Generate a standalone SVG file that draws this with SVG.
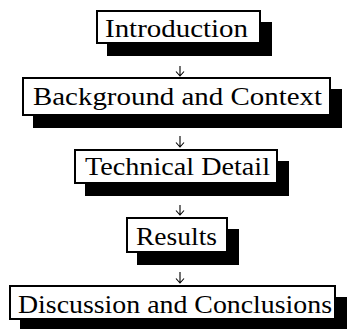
<svg xmlns="http://www.w3.org/2000/svg" width="348" height="329" viewBox="0 0 348 329">
<style>
.box{fill:#fff;stroke:#000;stroke-width:2}
.sh{fill:#000}
.t{font-family:"Liberation Serif","DejaVu Serif","Times New Roman",serif;font-size:25px;fill:#000}
.c{fill:none;stroke:#000;stroke-width:1.1}
</style>
<rect width="348" height="329" fill="#fff"/>
<g id="connectors">
<path class="c" d="M180,66V76M176,71.5L180,76L184,71.5"/>
<path class="c" d="M180,136V147M176,142.5L180,147L184,142.5"/>
<path class="c" d="M180,205V215M176,210.5L180,215L184,210.5"/>
<path class="c" d="M180,272V283M176,278.5L180,283L184,278.5"/>
</g>
<g id="introduction">
<rect class="sh" x="107" y="22" width="165" height="34"/>
<rect class="box" x="97" y="11" width="163" height="32"/>
<text class="t" x="105" y="37" textLength="143" lengthAdjust="spacingAndGlyphs">Introduction</text>
</g>
<g id="background">
<rect class="sh" x="33" y="89" width="309" height="39"/>
<rect class="box" x="23" y="78" width="307" height="37"/>
<text class="t" x="33" y="105" textLength="289" lengthAdjust="spacingAndGlyphs">Background and Context</text>
</g>
<g id="technical">
<rect class="sh" x="85" y="161" width="204" height="35"/>
<rect class="box" x="75" y="150" width="202" height="33"/>
<text class="t" x="85" y="175" textLength="185" lengthAdjust="spacingAndGlyphs">Technical Detail</text>
</g>
<g id="results">
<rect class="sh" x="137" y="229" width="102" height="36"/>
<rect class="box" x="127" y="218" width="100" height="34"/>
<text class="t" x="136" y="245" textLength="81" lengthAdjust="spacingAndGlyphs">Results</text>
</g>
<g id="discussion">
<rect class="sh" x="20" y="297" width="327" height="35"/>
<rect class="box" x="10" y="286" width="325" height="33"/>
<text class="t" x="18" y="313" textLength="314" lengthAdjust="spacingAndGlyphs">Discussion and Conclusions</text>
</g>
</svg>
